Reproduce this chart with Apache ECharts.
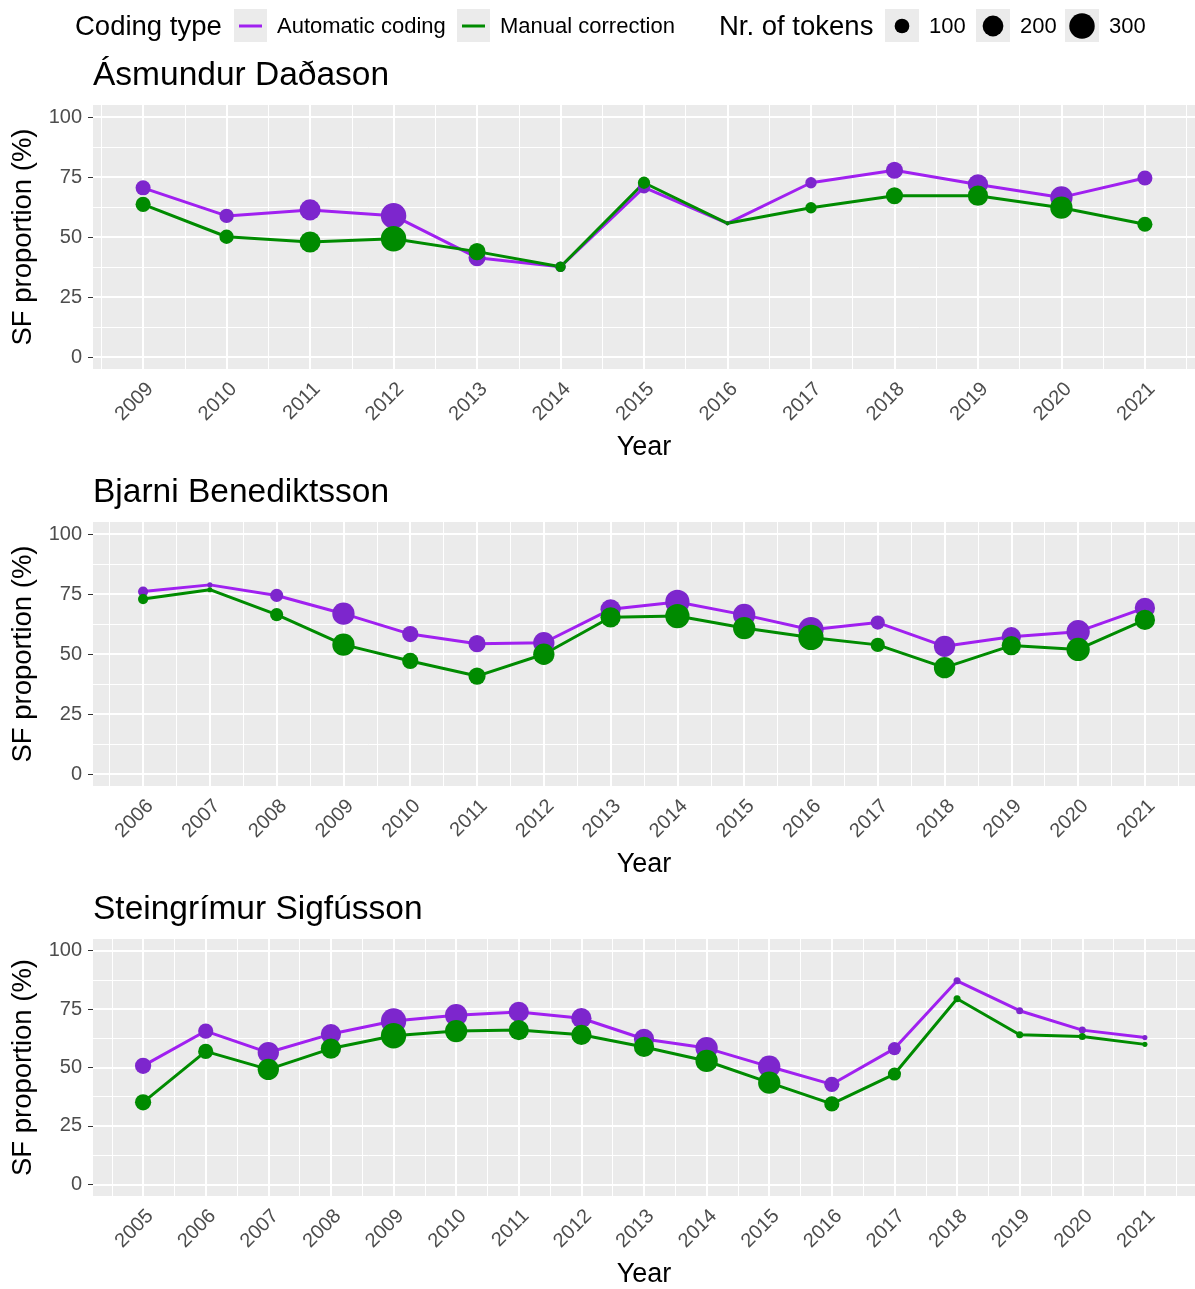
<!DOCTYPE html>
<html>
<head>
<meta charset="utf-8">
<script src="https://cdn.jsdelivr.net/npm/echarts@6/dist/echarts.min.js"></script>
<style>
html,body{margin:0;padding:0;background:#fff;}
#chart{width:1195px;height:1289px;}
</style>
</head>
<body>
<div id="chart"></div>
<script>
// ---------- data ----------
const panelTitles = ['Ásmundur Daðason', 'Bjarni Benediktsson', 'Steingrímur Sigfússon'];

const asmYears = [2009, 2010, 2011, 2012, 2013, 2014, 2015, 2016, 2017, 2018, 2019, 2020, 2021];
const asmAuto = [70.5, 58.8, 61.3, 58.9, 41.4, 37.6, 70.7, 55.7, 72.6, 77.8, 71.9, 66.5, 74.6];
const asmManual = [63.6, 50.1, 47.9, 49.3, 43.9, 37.6, 72.6, 55.7, 62.2, 67.2, 67.2, 62.2, 55.3];
const asmTokens = [105, 95, 205, 300, 135, 50, 70, 8, 60, 135, 190, 230, 105];

const bjaYears = [2006, 2007, 2008, 2009, 2010, 2011, 2012, 2013, 2014, 2015, 2016, 2017, 2018, 2019, 2020, 2021];
const bjaAuto = [76.0, 78.8, 74.4, 66.8, 58.3, 54.3, 54.7, 68.6, 71.7, 66.3, 60.1, 63.1, 53.2, 57.2, 59.3, 69.2];
const bjaManual = [72.9, 76.8, 66.4, 53.9, 47.1, 40.8, 49.9, 65.3, 65.8, 60.8, 56.9, 53.8, 44.3, 53.5, 51.9, 64.2];
const bjaTokens = [48, 12, 80, 230, 122, 137, 210, 190, 274, 230, 297, 93, 210, 172, 252, 190];

const steYears = [2005, 2006, 2007, 2008, 2009, 2010, 2011, 2012, 2013, 2014, 2015, 2016, 2017, 2018, 2019, 2020, 2021];
const steAuto = [50.7, 65.6, 56.4, 64.3, 69.9, 72.4, 73.8, 71.1, 62.2, 58.3, 50.4, 42.8, 58.1, 87.1, 74.3, 66.0, 62.8];
const steManual = [35.1, 56.9, 49.2, 58.1, 63.6, 65.6, 66.0, 64.0, 58.8, 52.8, 43.5, 34.4, 47.2, 79.4, 64.0, 63.3, 59.9];
const steTokens = [122, 107, 210, 190, 297, 230, 190, 190, 190, 230, 230, 107, 80, 23, 23, 23, 12];

const yTicks = [0, 25, 50, 75, 100];
const yMinor = [12.5, 37.5, 62.5, 87.5];
const seriesNames = ['Automatic coding', 'Manual correction'];
const tokenLegend = [100, 200, 300];

// ---------- style ----------
const FONT = '"Liberation Sans", Arial, Helvetica, sans-serif';
const PURPLE_LINE = '#A020F0', PURPLE_PT = '#7D26CD', GREEN = '#008B00';
const PANEL_BG = '#EBEBEB';
const sizeOf = t => 1.47 * Math.sqrt(t);

const panels = [
  {years: asmYears, auto: asmAuto, manual: asmManual, tokens: asmTokens, top: 105},
  {years: bjaYears, auto: bjaAuto, manual: bjaManual, tokens: bjaTokens, top: 522},
  {years: steYears, auto: steAuto, manual: steManual, tokens: steTokens, top: 939}
];
const PANEL_H = 264, PANEL_L = 93, PANEL_W = 1111;

const grid = [], xAxis = [], yAxis = [], series = [], graphic = [];

panels.forEach((p, i) => {
  const span = p.years[p.years.length - 1] - p.years[0];
  const xmin = p.years[0] - 0.05 * span, xmax = p.years[p.years.length - 1] + 0.05 * span;
  grid.push({left: PANEL_L, top: p.top, width: PANEL_W, height: PANEL_H, show: true,
    backgroundColor: PANEL_BG, borderWidth: 0, containLabel: false});
  xAxis.push({
    type: 'value', gridIndex: i, min: xmin, max: xmax,
    axisLine: {show: false}, splitLine: {show: false},
    axisTick: {show: true, length: 5, lineStyle: {color: '#333', width: 1}, customValues: p.years},
    axisLabel: {customValues: p.years, rotate: 45, margin: 10, verticalAlign: 'top', align: 'right',
      color: '#4D4D4D', fontSize: 20, fontFamily: FONT, formatter: v => String(v)},
    name: 'Year', nameLocation: 'middle', nameGap: 65,
    nameTextStyle: {color: '#000', fontSize: 27, fontFamily: FONT}
  });
  yAxis.push({
    type: 'value', gridIndex: i, min: -5, max: 105,
    axisLine: {show: false}, splitLine: {show: false},
    axisTick: {show: true, length: 5, lineStyle: {color: '#333', width: 1}, customValues: yTicks},
    axisLabel: {customValues: yTicks, margin: 11, color: '#4D4D4D', fontSize: 20, fontFamily: FONT},
    name: 'SF proportion (%)', nameLocation: 'middle', nameGap: 53, nameRotate: 90,
    nameTextStyle: {color: '#000', fontSize: 27.5, fontFamily: FONT}
  });
  // grid lines drawn through the axes' scales
  const gl = [];
  yTicks.forEach(v => gl.push({yAxis: v, lineStyle: {color: '#fff', width: 2, type: 'solid'}}));
  yMinor.forEach(v => gl.push({yAxis: v, lineStyle: {color: '#fff', width: 1, type: 'solid'}}));
  p.years.forEach(v => gl.push({xAxis: v, lineStyle: {color: '#fff', width: 2, type: 'solid'}}));
  p.years.forEach(v => gl.push({xAxis: v - 0.5, lineStyle: {color: '#fff', width: 1, type: 'solid'}}));
  gl.push({xAxis: p.years[p.years.length - 1] + 0.5, lineStyle: {color: '#fff', width: 1, type: 'solid'}});
  series.push({
    type: 'line', xAxisIndex: i, yAxisIndex: i, data: [], z: 1, silent: true,
    markLine: {z: 1, silent: true, symbol: ['none', 'none'], label: {show: false}, animation: false, data: gl}
  });
  series.push({type: 'line', name: seriesNames[0], xAxisIndex: i, yAxisIndex: i, z: 2, silent: true,
    showSymbol: false, data: p.years.map((y, k) => [y, p.auto[k]]),
    lineStyle: {color: PURPLE_LINE, width: 3}});
  series.push({type: 'line', name: seriesNames[1], xAxisIndex: i, yAxisIndex: i, z: 3, silent: true,
    showSymbol: false, data: p.years.map((y, k) => [y, p.manual[k]]),
    lineStyle: {color: GREEN, width: 3}});
  series.push({type: 'scatter', xAxisIndex: i, yAxisIndex: i, z: 4, silent: true,
    data: p.years.map((y, k) => [y, p.auto[k], p.tokens[k]]),
    symbolSize: v => sizeOf(v[2]), itemStyle: {color: PURPLE_PT, opacity: 1}});
  series.push({type: 'scatter', xAxisIndex: i, yAxisIndex: i, z: 5, silent: true,
    data: p.years.map((y, k) => [y, p.manual[k], p.tokens[k]]),
    symbolSize: v => sizeOf(v[2]), itemStyle: {color: GREEN, opacity: 1}});
  graphic.push({type: 'text', x: PANEL_L, y: p.top - 29,
    style: {text: panelTitles[i], fontSize: 33.5, fontFamily: FONT, fill: '#000', verticalAlign: 'middle', textVerticalAlign: 'middle'}});
});

// ---------- legend (drawn with graphic elements) ----------
const LY = 26;
const txt = (x, y, s, fs) => ({type: 'text', x, y, style: {text: s, fontSize: fs, fontFamily: FONT, fill: '#000', verticalAlign: 'middle', textVerticalAlign: 'middle'}});
graphic.push(txt(75, LY + 1, 'Coding type', 27.5));
const lineKeys = [{x: 234, color: PURPLE_LINE, label: seriesNames[0], lx: 277}, {x: 457, color: GREEN, label: seriesNames[1], lx: 500}];
lineKeys.forEach(k => {
  graphic.push({type: 'rect', shape: {x: k.x, y: LY - 17, width: 33, height: 33}, style: {fill: PANEL_BG}});
  graphic.push({type: 'line', shape: {x1: k.x + 5, y1: LY, x2: k.x + 28, y2: LY}, style: {stroke: k.color, lineWidth: 3}});
  graphic.push(txt(k.lx, LY + 1, k.label, 22));
});
graphic.push(txt(719, LY + 1, 'Nr. of tokens', 27.5));
const sizeKeyX = [885, 976, 1065];
tokenLegend.forEach((t, j) => {
  const kx = sizeKeyX[j];
  graphic.push({type: 'rect', shape: {x: kx, y: LY - 17, width: 34, height: 33}, style: {fill: PANEL_BG}});
  graphic.push({type: 'circle', shape: {cx: kx + 17, cy: LY, r: sizeOf(t) / 2}, style: {fill: '#000'}});
  graphic.push(txt(kx + 44, LY + 1, String(t), 22));
});

const chart = echarts.init(document.getElementById('chart'), null, {renderer: 'canvas'});
chart.setOption({
  animation: false,
  backgroundColor: '#fff',
  grid, xAxis, yAxis, series, graphic
});
</script>
</body>
</html>
